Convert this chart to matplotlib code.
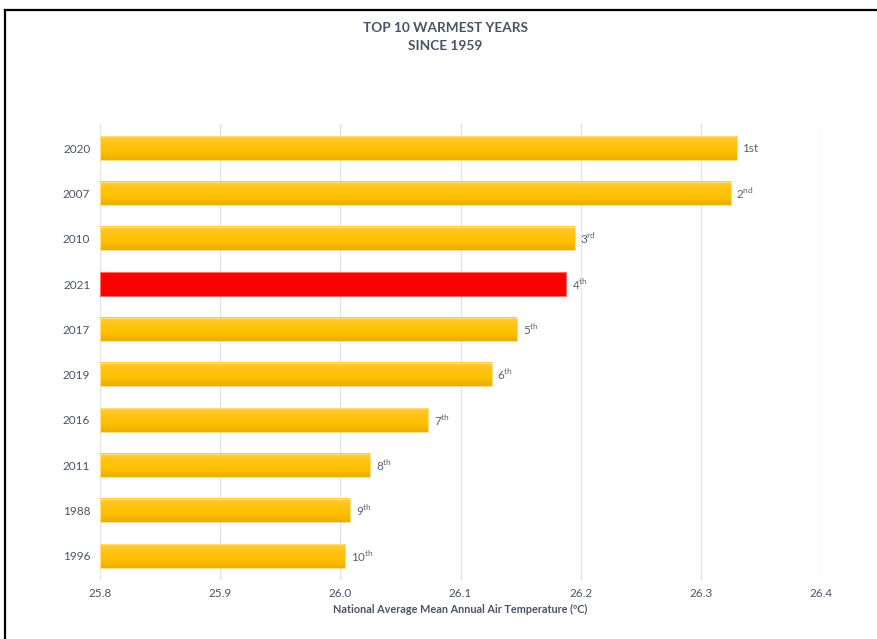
import matplotlib
matplotlib.use("Agg")
import matplotlib.pyplot as plt
from matplotlib.colors import LinearSegmentedColormap
from matplotlib.lines import Line2D
import numpy as np

plt.rcParams["font.family"] = ["Lato", "DejaVu Sans"]
plt.rcParams["mathtext.fontset"] = "custom"
plt.rcParams["mathtext.rm"] = "Lato"

years = ["2020", "2007", "2010", "2021", "2017", "2019", "2016", "2011", "1988", "1996"]
temps = [26.33, 26.325, 26.195, 26.188, 26.147, 26.126, 26.073, 26.025, 26.008, 26.004]
rank_labels = ["1st", r"2$^{\mathrm{nd}}$", r"3$^{\mathrm{rd}}$", r"4$^{\mathrm{th}}$",
               r"5$^{\mathrm{th}}$", r"6$^{\mathrm{th}}$", r"7$^{\mathrm{th}}$",
               r"8$^{\mathrm{th}}$", r"9$^{\mathrm{th}}$", r"10$^{\mathrm{th}}$"]
highlight_year = "2021"
xticks = [25.8, 25.9, 26.0, 26.1, 26.2, 26.3, 26.4]

base = 25.8
text_color = "#4A5466"
gold = LinearSegmentedColormap.from_list(
    "gold", ["#FFCD40", "#FFC312", "#FFC000", "#E8AD00"])

fig = plt.figure(figsize=(8.77, 6.39), dpi=100)
ax = fig.add_axes([100 / 877, 59 / 639, 721 / 877, 456 / 639])

pos = np.arange(len(years))
bars = ax.barh(pos, np.array(temps) - base, left=base, height=0.51,
               edgecolor="#FFDD80", linewidth=0.8, zorder=3)

# vertical gold gradient inside each bar, the highlighted year stays flat red
grad = np.linspace(0, 1, 256).reshape(-1, 1)
for bar, year in zip(bars, years):
    if year == highlight_year:
        bar.set_facecolor("#FF0000")
        bar.set_edgecolor("#FF6A6A")
        continue
    bar.set_facecolor("none")
    x0, y0 = bar.get_x(), bar.get_y()
    w, h = bar.get_width(), bar.get_height()
    ax.imshow(grad, cmap=gold, aspect="auto", origin="lower",
              extent=(x0, x0 + w, y0, y0 + h), zorder=2)

for p, t, lab in zip(pos, temps, rank_labels):
    ax.annotate(lab, (t, p), xytext=(4, 0), textcoords="offset points",
                va="center", ha="left", fontsize=8.5, color="#5A6070")

ax.set_xlim(25.8, 26.4)
ax.set_ylim(len(years) - 0.47, -0.53)
ax.set_xticks(xticks)
ax.set_xticklabels([f"{v:.1f}" for v in xticks])
ax.set_yticks(pos)
ax.set_yticklabels(years)
ax.tick_params(length=0, labelsize=8.5, labelcolor=text_color)
ax.tick_params(axis="y", pad=7)
ax.tick_params(axis="x", pad=6)
ax.grid(axis="x", color="#E3E3E8", linewidth=1, zorder=0)
ax.set_axisbelow(True)
for s in ax.spines.values():
    s.set_visible(False)

ax.set_xlabel("National Average Mean Annual Air Temperature (ºC)",
              fontsize=7.8, fontweight="bold", color=text_color, labelpad=3)

fig.text(445 / 877, 1 - 28 / 639, "TOP 10 WARMEST YEARS", ha="center",
         va="center", fontsize=9.8, fontweight="bold", color=text_color)
fig.text(445 / 877, 1 - 46 / 639, "SINCE 1959", ha="center",
         va="center", fontsize=9.8, fontweight="bold", color=text_color)

# frame around the graphic
fig.add_artist(Line2D([5 / 877, 5 / 877], [0, 1 - 10 / 639],
                      transform=fig.transFigure, color="black", lw=1.6))
fig.add_artist(Line2D([5 / 877, 1], [1 - 10 / 639, 1 - 10 / 639],
                      transform=fig.transFigure, color="black", lw=1.6))

fig.savefig("out.png", dpi=100)
